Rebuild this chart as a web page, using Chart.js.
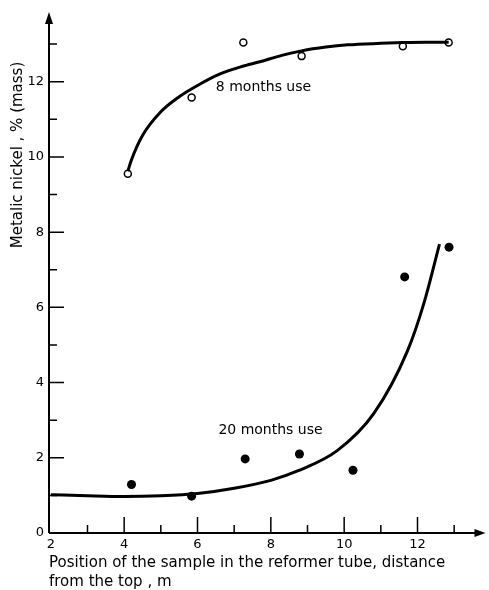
<!DOCTYPE html>
<html>
<head>
<meta charset="utf-8">
<script src="https://cdn.jsdelivr.net/npm/chart.js@4.4.1/dist/chart.umd.min.js"></script>
<style>
  html, body { margin: 0; padding: 0; background: #fff; }
  #wrap { width: 489px; height: 590px; }
</style>
</head>
<body>
<div id="wrap"><canvas id="chart" width="489" height="590"></canvas></div>
<script>
// measured samples, 8 months use (open circles)
var x8 = [4.1, 5.84, 7.25, 8.84, 11.6, 12.85];
var y8 = [9.55, 11.58, 13.04, 12.68, 12.94, 13.04];
// fitted curve, 8 months use
var curve8x = [4.1, 4.19, 4.5, 5.0, 5.5, 6.0, 6.6, 7.2, 7.7, 8.3, 8.84, 9.5, 10.1, 11.0, 11.6, 12.2, 12.85];
var curve8y = [9.62, 9.9, 10.57, 11.2, 11.6, 11.9, 12.2, 12.4, 12.53, 12.7, 12.82, 12.92, 12.98, 13.02, 13.04, 13.05, 13.05];

// measured samples, 20 months use (filled dots)
var x20 = [4.2, 5.84, 7.3, 8.78, 10.24, 11.65, 12.86];
var y20 = [1.29, 0.98, 1.97, 2.1, 1.67, 6.81, 7.6];
// fitted curve, 20 months use
var curve20x = [2, 3, 4, 5, 6, 7, 8, 8.73, 9.81, 10.81, 11.73, 12.19, 12.6];
var curve20y = [1.02, 0.99, 0.97, 0.99, 1.05, 1.19, 1.4, 1.65, 2.19, 3.18, 4.85, 6.16, 7.68];

var xTicks = [2, 4, 6, 8, 10, 12];
var xMinor = [3, 5, 7, 9, 11, 13];
var yTicks = [0, 2, 4, 6, 8, 10, 12];
var yMinor = [1, 3, 5, 7, 9, 11, 13];

function toPoints(xs, ys) {
	var pts = [];
	for (var i = 0; i < xs.length; i++) {
		pts.push({x: xs[i], y: ys[i]});
	}
	return pts;
}

var fontFam = "'DejaVu Sans', sans-serif";

// axes with inward ticks, arrows and the text labels
var axesPlugin = {
	id: 'axesPlugin',
	afterDraw: function(chart) {
		var ctx = chart.ctx;
		var xs = chart.scales.x, ys = chart.scales.y;
		var x0 = xs.left, y0 = ys.bottom;
		ctx.save();
		ctx.strokeStyle = '#000';
		ctx.fillStyle = '#000';
		ctx.lineWidth = 2;
		ctx.beginPath();
		ctx.moveTo(x0, y0);
		ctx.lineTo(xs.right - 4, y0);
		ctx.moveTo(x0, y0);
		ctx.lineTo(x0, ys.top + 6);
		ctx.stroke();
		// arrow heads
		ctx.beginPath();
		ctx.moveTo(xs.right + 2, y0);
		ctx.lineTo(xs.right - 9, y0 - 4);
		ctx.lineTo(xs.right - 9, y0 + 4);
		ctx.closePath();
		ctx.fill();
		ctx.beginPath();
		ctx.moveTo(x0, ys.top - 2);
		ctx.lineTo(x0 - 4, ys.top + 10);
		ctx.lineTo(x0 + 4, ys.top + 10);
		ctx.closePath();
		ctx.fill();
		// ticks
		ctx.lineWidth = 1.5;
		ctx.beginPath();
		xTicks.forEach(function(v) {
			if (v === xTicks[0]) return;
			var p = xs.getPixelForValue(v);
			ctx.moveTo(p, y0); ctx.lineTo(p, y0 - 16);
		});
		xMinor.forEach(function(v) {
			var p = xs.getPixelForValue(v);
			ctx.moveTo(p, y0); ctx.lineTo(p, y0 - 8);
		});
		yTicks.forEach(function(v) {
			if (v === yTicks[0]) return;
			var p = ys.getPixelForValue(v);
			ctx.moveTo(x0, p); ctx.lineTo(x0 + 15, p);
		});
		yMinor.forEach(function(v) {
			var p = ys.getPixelForValue(v);
			ctx.moveTo(x0, p); ctx.lineTo(x0 + 8, p);
		});
		ctx.stroke();

		// curve labels
		ctx.font = '14px ' + fontFam;
		ctx.textAlign = 'left';
		ctx.textBaseline = 'middle';
		ctx.fillText('8 months use', xs.getPixelForValue(6.5), ys.getPixelForValue(11.84));
		ctx.fillText('20 months use', xs.getPixelForValue(6.57), ys.getPixelForValue(2.72));

		// y title
		ctx.translate(22, 155);
		ctx.rotate(-Math.PI / 2);
		ctx.textAlign = 'center';
		ctx.textBaseline = 'alphabetic';
		ctx.font = '15px ' + fontFam;
		ctx.fillText('Metalic nickel , % (mass)', 0, 0);
		ctx.restore();
	}
};

var chart = new Chart(document.getElementById('chart'), {
	type: 'scatter',
	data: {
		datasets: [
			{
				type: 'line',
				label: '8 months curve',
				data: toPoints(curve8x, curve8y),
				borderColor: '#000',
				borderWidth: 3,
				pointRadius: 0,
				cubicInterpolationMode: 'monotone',
				fill: false
			},
			{
				type: 'line',
				label: '20 months curve',
				data: toPoints(curve20x, curve20y),
				borderColor: '#000',
				borderWidth: 3,
				pointRadius: 0,
				cubicInterpolationMode: 'monotone',
				fill: false
			},
			{
				label: '8 months use',
				data: toPoints(x8, y8),
				pointRadius: 3.5,
				pointBorderWidth: 1.5,
				pointBackgroundColor: '#fff',
				pointBorderColor: '#000'
			},
			{
				label: '20 months use',
				data: toPoints(x20, y20),
				pointRadius: 4.5,
				pointBorderWidth: 0,
				pointBackgroundColor: '#000',
				pointBorderColor: '#000'
			}
		]
	},
	options: {
		responsive: false,
		animation: false,
		layout: { padding: { left: 0, right: 2, top: 14, bottom: 0 } },
		plugins: {
			legend: { display: false },
			tooltip: { enabled: false }
		},
		scales: {
			x: {
				type: 'linear',
				min: 1.95,
				max: 13.8,
				grid: { display: false, drawTicks: false },
				border: { display: false },
				afterBuildTicks: function(scale) {
					scale.ticks = xTicks.map(function(v) { return {value: v}; });
				},
				afterFit: function(scale) { scale.height = 57; },
				ticks: {
					color: '#000',
					padding: 4,
					maxRotation: 0,
					autoSkip: false,
					font: { family: fontFam, size: 13 }
				},
				title: {
					display: true,
					align: 'start',
					color: '#000',
					text: ['Position of the sample in the reformer tube, distance', 'from the top , m'],
					font: { family: fontFam, size: 15, lineHeight: 1.3 },
					padding: { top: 0, bottom: -2 }
				}
			},
			y: {
				type: 'linear',
				min: 0,
				max: 13.8,
				grid: { display: false, drawTicks: false },
				border: { display: false },
				afterBuildTicks: function(scale) {
					scale.ticks = yTicks.map(function(v) { return {value: v}; });
				},
				afterFit: function(scale) { scale.width = 49; },
				ticks: {
					color: '#000',
					padding: 5,
					autoSkip: false,
					font: { family: fontFam, size: 13 }
				}
			}
		}
	},
	plugins: [axesPlugin]
});
</script>
</body>
</html>
